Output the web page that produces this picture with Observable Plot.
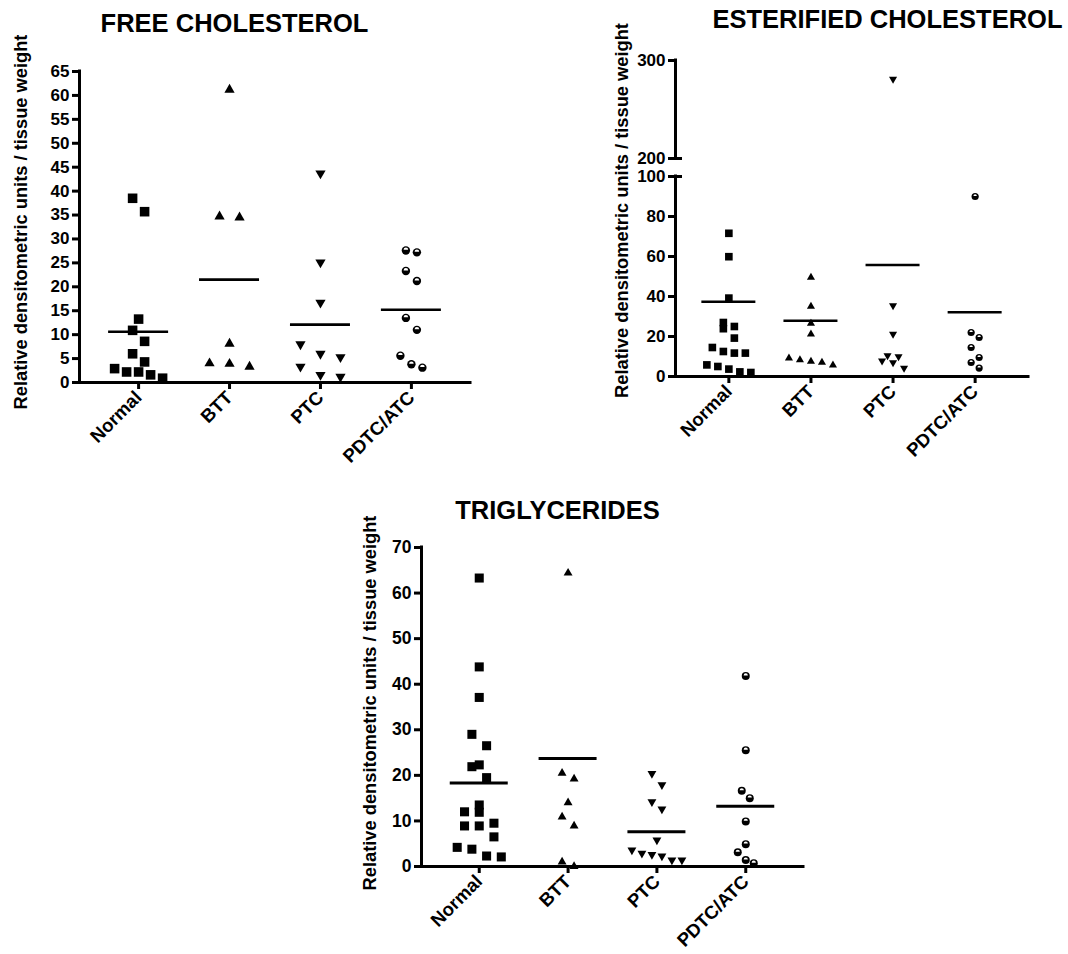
<!DOCTYPE html>
<html><head><meta charset="utf-8">
<script src="https://cdn.jsdelivr.net/npm/d3@7"></script>
<script src="https://cdn.jsdelivr.net/npm/@observablehq/plot@0.6"></script>
<style>
body{margin:0;background:#fff;}
#root{position:relative;width:1068px;height:954px;overflow:hidden;font-family:"Liberation Sans",Arial,sans-serif;color:#000;}
.title{position:absolute;font-weight:bold;font-size:25.5px;white-space:nowrap;transform:translateX(-50%);line-height:1;}
.panel{position:absolute;}
</style></head><body><div id="root"></div>
<script>
// ---------- DATA ----------
const groups = ["Normal", "BTT", "PTC", "PDTC/ATC"];
const yLabel = "Relative densitometric units / tissue weight";

// FREE CHOLESTEROL
const fcNormal = [38.5, 35.7, 13.25, 10.9, 8.6, 6.0, 4.3, 2.9, 2.2, 2.2, 1.6, 0.9];
const fcBTT = [61.2, 34.7, 34.5, 8.1, 4.0, 3.9, 3.3];
const fcPTC = [43.7, 25.1, 16.7, 8.0, 6.0, 5.3, 3.3, 1.6, 1.2];
const fcPDTC = [27.6, 27.2, 23.3, 21.2, 13.5, 11.0, 5.6, 3.8, 3.1];
const fcMean = [10.6, 21.5, 12.1, 15.2];
const fcTicks = [0, 5, 10, 15, 20, 25, 30, 35, 40, 45, 50, 55, 60, 65];

// ESTERIFIED CHOLESTEROL (axis broken between 100 and 200)
const ecNormal = [71.6, 59.9, 39.2, 27.0, 25.0, 23.9, 19.2, 14.5, 12.5, 11.7, 11.7, 5.8, 5.0, 3.7, 2.3, 2.0];
const ecBTT = [49.6, 35.1, 26.5, 21.2, 9.2, 8.3, 7.5, 7.0, 5.7];
const ecPTC = [281, 35.4, 21.2, 10.4, 10.0, 7.8, 7.0, 4.2];
const ecPDTC = [90.0, 22.0, 19.5, 14.5, 9.5, 7.0, 4.2];
const ecMean = [37.4, 27.9, 55.8, 32.1];
const ecTicksLow = [0, 20, 40, 60, 80, 100];
const ecTicksHigh = [200, 300];

// TRIGLYCERIDES
const tgNormal = [63.3, 43.8, 37.1, 29.0, 26.5, 22.3, 21.9, 19.5, 13.5, 12.0, 11.9, 9.5, 8.9, 8.9, 6.5, 4.2, 3.8, 2.3, 2.1];
const tgBTT = [64.4, 20.5, 19.2, 14.0, 10.9, 8.9, 1.0, 0.0];
const tgPTC = [20.4, 17.9, 14.2, 12.6, 5.8, 3.6, 2.9, 2.6, 2.3, 1.4, 1.4];
const tgPDTC = [41.8, 25.5, 16.6, 15.0, 9.9, 4.9, 3.1, 1.4, 0.7];
const tgMean = [18.3, 23.7, 7.6, 13.2];
const tgTicks = [0, 10, 20, 30, 40, 50, 60, 70];

// ---------- DRAWING ----------
const PAD = 0.65;
const root = document.getElementById("root");
const FONT = "'Liberation Sans', Arial, sans-serif";

// half-disc (upper half) symbol for the half-filled circles
const halfTop = {
  draw(ctx, size) {
    const r = Math.sqrt(size / Math.PI);
    ctx.moveTo(r, 0);
    ctx.arc(0, 0, r, 0, Math.PI, true);
    ctx.closePath();
  }
};

// GraphPad-like column scatter: bottom-up rows of nearby points spread horizontally
function spreadOffsets(vals, yPx, thresh, sp) {
  const order = d3.range(vals.length).sort((a, b) => vals[a] - vals[b]);
  const rows = [];
  let cur = null;
  for (const i of order) {
    const p = yPx(vals[i]);
    if (cur && cur.p0 - p < thresh) cur.items.push(i);
    else { cur = {p0: p, items: [i]}; rows.push(cur); }
  }
  const off = new Array(vals.length).fill(0);
  for (const row of rows) {
    const items = row.items.slice().sort((a, b) => vals[b] - vals[a]);
    const n = items.length;
    items.forEach((i, k) => off[i] = (k - (n - 1) / 2) * sp);
  }
  return off;
}

function addTitle(text, cx, top) {
  const d = document.createElement("div");
  d.className = "title";
  d.textContent = text;
  d.style.left = cx + "px";
  d.style.top = top + "px";
  root.appendChild(d);
}

function place(svg, left, top) {
  const wrap = document.createElement("div");
  wrap.className = "panel";
  wrap.style.left = left + "px";
  wrap.style.top = top + "px";
  wrap.appendChild(svg);
  root.appendChild(wrap);
}

function dotMarks(rows, sizes) {
  return [
    Plot.dot(rows.filter(d => d.g === 0), {x: "x", y: "v", symbol: "square", r: sizes[0], fill: "black"}),
    Plot.dot(rows.filter(d => d.g === 1), {x: "x", y: "v", symbol: "triangle", r: sizes[1], fill: "black"}),
    Plot.dot(rows.filter(d => d.g === 2), {x: "x", y: "v", symbol: "triangle", rotate: 180, r: sizes[2], fill: "black"}),
    Plot.dot(rows.filter(d => d.g === 3), {x: "x", y: "v", symbol: "circle", r: sizes[3], fill: "black"}),
    Plot.dot(rows.filter(d => d.g === 3), {x: "x", y: "v", symbol: halfTop, r: sizes[3] - 1.9, dy: -0.6, fill: "white"})
  ];
}

// builds the scatter rows (with spread offsets converted to x units)
function buildRows(series, yPx, thresh, spread, stepPx) {
  const rows = [];
  series.forEach((vals, g) => {
    const offs = spreadOffsets(vals, yPx, thresh, spread[g]);
    vals.forEach((v, k) => rows.push({g, v, x: g + offs[k] / stepPx}));
  });
  return rows;
}

function makePanel(cfg) {
  const {series, means, ticks, yDomain, width, height, ml, mr, mt, mb,
         sizes, spread, thresh, meanHalf, meanStroke, fontTick, fontX,
         labelDx, labelDy, left, top, rowsOverride, breakTop} = cfg;
  const yr = [height - mb, mt];
  const stepPx = (width - ml - mr) / (3 + 2 * PAD);
  const xmin = -PAD, xmax = 3 + PAD;
  const rows = rowsOverride ?? buildRows(series, d3.scaleLinear().domain(yDomain).range(yr), thresh, spread, stepPx);
  const marks = [
    Plot.ruleY(means, {x1: (d, i) => i, x2: (d, i) => i, y: d => d,
      insetLeft: -meanHalf, insetRight: -meanHalf, stroke: "black", strokeWidth: meanStroke}),
    ...dotMarks(rows.filter(d => d.v >= yDomain[0] && d.v <= yDomain[1]), sizes),
    Plot.ruleX([yDomain], {x: () => xmin, y1: d => d[0], y2: d => d[1], stroke: "black", strokeWidth: 3, strokeLinecap: "square"}),
    Plot.ruleY([yDomain[0]], {x1: () => xmin, x2: () => xmax, stroke: "black", strokeWidth: 3, strokeLinecap: "square"}),
    Plot.axisY({ticks, tickSize: 7, tickPadding: 3, strokeWidth: 3, fontSize: fontTick, fontWeight: "bold",
      tickFormat: d => String(d), label: null, color: "black"}),
    Plot.axisX({ticks: [0, 1, 2, 3], tickFormat: i => groups[i], tickRotate: -45, tickSize: 7, tickPadding: 5,
      strokeWidth: 3, fontSize: fontX, fontWeight: "bold", label: null, color: "black"}),
    Plot.text([yLabel], {text: d => d, frameAnchor: "left", textAnchor: "middle", rotate: -90, dx: labelDx, dy: labelDy,
      fontSize: 18.3, fontWeight: "bold", fill: "black"})
  ];
  if (breakTop) {
    marks.push(Plot.ruleY([yDomain[1]], {x1: () => xmin, x2: () => xmin, insetLeft: -7, insetRight: -7,
      stroke: "black", strokeWidth: 3}));
  }
  const svg = Plot.plot({
    width, height, marginLeft: ml, marginRight: mr, marginTop: mt, marginBottom: mb,
    x: {domain: [xmin, xmax]},
    y: {domain: yDomain, range: yr},
    style: {fontFamily: FONT, background: "transparent", overflow: "visible", color: "black"},
    marks
  });
  place(svg, left, top);
}

// Panel 1: FREE CHOLESTEROL
makePanel({
  series: [fcNormal, fcBTT, fcPTC, fcPDTC], means: fcMean, ticks: fcTicks,
  yDomain: [0, 65], left: 0, top: 0, width: 490, height: 485, ml: 79, mr: 20, mt: 71, mb: 103,
  sizes: [5.4, 3.8, 3.8, 4.2], spread: [12, 20, 20, 11], thresh: 14,
  meanHalf: 30, meanStroke: 2.6, fontTick: 17, fontX: 18.5, labelDx: -58, labelDy: -5
});
addTitle("FREE CHOLESTEROL", 234.5, 11.4);

// Panel 2: ESTERIFIED CHOLESTEROL -- lower segment (0-100) and upper segment (200-300)
{
  const W = 468, ML = 75, MR = 40;
  const stepPx = (W - ML - MR) / (3 + 2 * PAD);
  const yPx = d3.scaleLinear().domain([0, 100, 200, 300]).range([376, 176, 158, 60]);
  const rows = buildRows([ecNormal, ecBTT, ecPTC, ecPDTC], yPx, 10.5, [11, 11, 11, 8], stepPx);
  const sizes = [4.3, 3.0, 3.0, 3.6];
  makePanel({
    rowsOverride: rows, means: ecMean, ticks: ecTicksLow, breakTop: true,
    yDomain: [0, 100], left: 600, top: 0, width: W, height: 485, ml: ML, mr: MR, mt: 176, mb: 109,
    sizes, meanHalf: 27, meanStroke: 2.5, fontTick: 17, fontX: 18.5, labelDx: -53, labelDy: -66
  });
  // upper segment
  const xmin = -PAD;
  const upper = Plot.plot({
    width: W, height: 170, marginLeft: ML, marginRight: MR, marginTop: 60, marginBottom: 12,
    x: {domain: [-PAD, 3 + PAD], axis: null},
    y: {domain: [200, 300], range: [158, 60]},
    style: {fontFamily: FONT, background: "transparent", overflow: "visible", color: "black"},
    marks: [
      ...dotMarks(rows.filter(d => d.v >= 200), sizes),
      Plot.ruleX([[200, 300]], {x: () => xmin, y1: d => d[0], y2: d => d[1], stroke: "black", strokeWidth: 3, strokeLinecap: "square"}),
      Plot.ruleY([200], {x1: () => xmin, x2: () => xmin, insetLeft: -7, insetRight: -7, stroke: "black", strokeWidth: 3}),
      Plot.axisY({ticks: ecTicksHigh, tickSize: 7, tickPadding: 3, strokeWidth: 3, fontSize: 17, fontWeight: "bold",
        tickFormat: d => String(d), label: null, color: "black"})
    ]
  });
  place(upper, 600, 0);
}
addTitle("ESTERIFIED CHOLESTEROL", 887.5, 7);

// Panel 3: TRIGLYCERIDES
makePanel({
  series: [tgNormal, tgBTT, tgPTC, tgPDTC], means: tgMean, ticks: tgTicks,
  yDomain: [0, 70], left: 340, top: 495, width: 480, height: 459, ml: 81, mr: 17, mt: 52, mb: 88,
  sizes: [5.1, 3.3, 3.3, 4.0], spread: [14.7, 12, 10, 8], thresh: 12.5,
  meanHalf: 29, meanStroke: 3, fontTick: 17.5, fontX: 18.5, labelDx: -51, labelDy: -4
});
addTitle("TRIGLYCERIDES", 557.5, 498.4);
</script>
</body></html>
